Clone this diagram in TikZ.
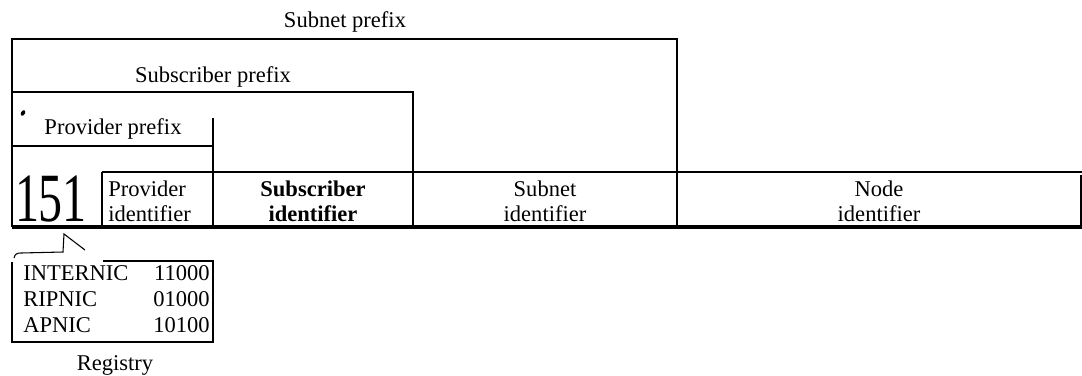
\documentclass[tikz,border=0pt]{standalone}
\usepackage{fontspec}
\setmainfont{Liberation Serif}
\begin{document}
\begin{tikzpicture}[x=0.75pt,y=-0.75pt,
  lbl/.style={inner sep=0pt,font=\fontsize{16.9}{18.75}\selectfont},
  two/.style={lbl,align=center},
  thin/.style={line width=0.8pt},
  mid/.style={line width=1.2pt},
  heavy/.style={line width=3pt}]
\useasboundingbox (0,0) rectangle (1082,375);
% frames
\draw[thin] (12,227) -- (12,39) -- (677,39) -- (677,172);
\draw[thin] (12,92) -- (413,92) -- (413,172);
\draw[thin] (12,146) -- (213,146);
\draw[thin] (213,118) -- (213,172);
\draw[thin] (102,172) -- (1082,172);
\draw[thin] (102,172) -- (102,227);
\draw[mid] (213,172) -- (213,227);
\draw[mid] (413,172) -- (413,227);
\draw[thin] (677,172) -- (677,227);
\draw[line width=1.6pt] (1081,175) -- (1081,227);
\draw[heavy] (12,227) -- (1082,227);
% labels
\node[lbl] (snp) at (345,22) {Subnet prefix};
\node[lbl] (sbp) at (213,77) {Subscriber prefix};
\node[lbl] (pvp) at (113,129) {Provider prefix};
\fill[rotate around={60:(23,113)}] (23,113) ellipse (3 and 2);
\node[inner sep=0pt,font=\fontsize{36}{40}\selectfont] (n151) at (51,199) {\scalebox{1}[1.44]{151}};
\node[lbl,align=left,anchor=west] (pid) at (108,201) {Provider\\identifier};
\node[two,font=\fontsize{16.9}{18.75}\selectfont\bfseries] (sid) at (313,201) {Subscriber\\identifier};
\node[two] (snid) at (545,201) {Subnet\\identifier};
\node[two] (nid) at (879,201) {Node\\identifier};
% registry callout box
\draw[thin] (103,261) -- (213,261) -- (213,342) -- (12,342) -- (12,262);
\draw[thin] (14,258) .. controls (15,254) and (17,253) .. (21,253) -- (63,252) -- (64,234) -- (85,250);
\node[lbl,anchor=west] (r1) at (23,273) {INTERNIC};
\node[lbl,anchor=east] (v1) at (210,273) {11000};
\node[lbl,anchor=west] (r2) at (23,299) {RIPNIC};
\node[lbl,anchor=east] (v2) at (210,299) {01000};
\node[lbl,anchor=west] (r3) at (23,325) {APNIC};
\node[lbl,anchor=east] (v3) at (210,325) {10100};
\node[lbl] (reg) at (115,365) {Registry};
\end{tikzpicture}
\end{document}
